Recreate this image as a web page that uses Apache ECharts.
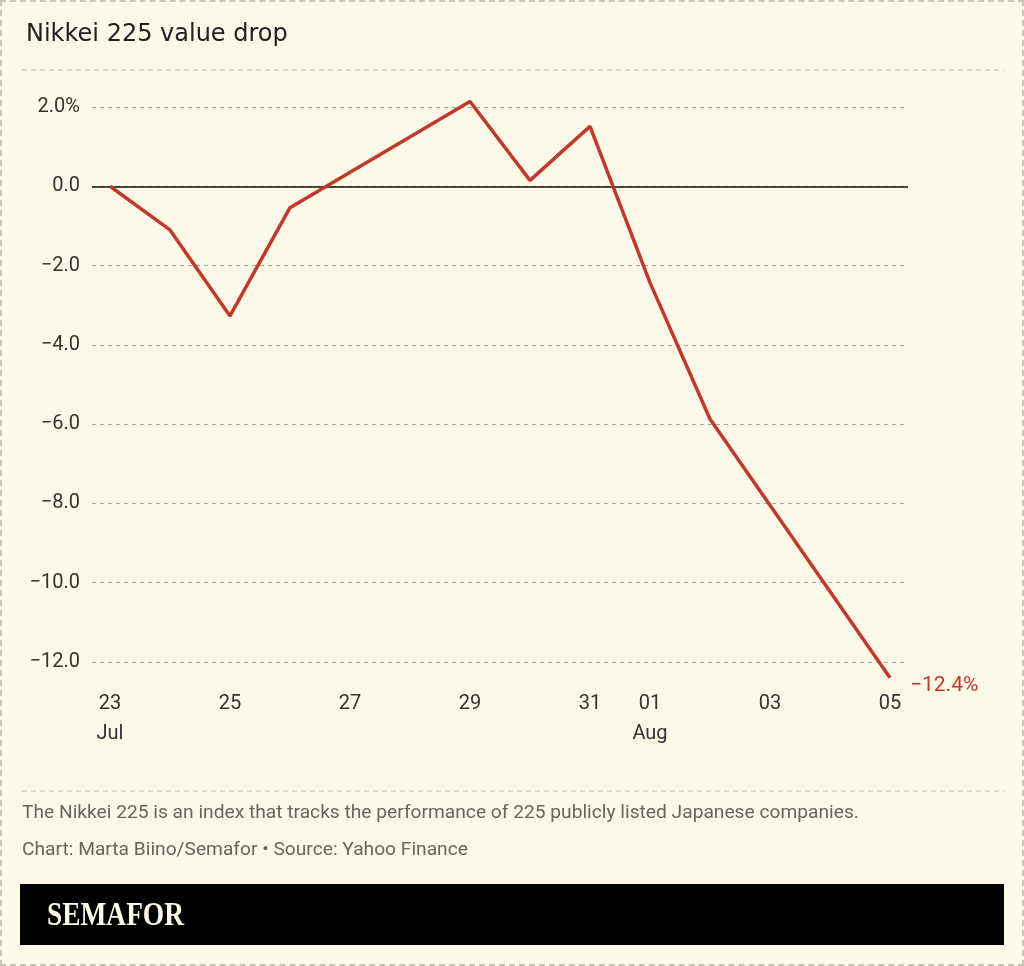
<!DOCTYPE html>
<html>
<head>
<meta charset="utf-8">
<script src="https://cdn.jsdelivr.net/npm/echarts@6/dist/echarts.min.js"></script>
<style>
  html, body { margin: 0; padding: 0; background: #fcf9e8; }
  #wrap { position: relative; width: 1024px; height: 966px; box-sizing: border-box; border: 2px dashed #c9c6b8; background: #fcf9e8; }
  #chart { position: absolute; left: -2px; top: -2px; width: 1024px; height: 966px; }
</style>
</head>
<body>
<div id="wrap"><div id="chart"></div></div>
<script>
// ---- data ----
const titleText = 'Nikkei 225 value drop';
const dates = ['2024-07-23','2024-07-24','2024-07-25','2024-07-26','2024-07-29','2024-07-30','2024-07-31','2024-08-01','2024-08-02','2024-08-05'];
const values = [0, -1.1, -3.27, -0.54, 2.14, 0.15, 1.51, -2.43, -5.87, -12.4];
const tickDates = ['2024-07-23','2024-07-25','2024-07-27','2024-07-29','2024-07-31','2024-08-01','2024-08-03','2024-08-05'];
const yTicks = [2, 0, -2, -4, -6, -8, -10, -12];
const endLabel = '\u221212.4%';
const noteText = 'The Nikkei 225 is an index that tracks the performance of 225 publicly listed Japanese companies.';
const creditText = 'Chart: Marta Biino/Semafor \u2022 Source: Yahoo Finance';

// ---- helpers ----
const DAY = 86400000;
const t0 = Date.UTC(2024, 6, 23);
function dayOffset(s) {
  const p = s.split('-').map(Number);
  return Math.round((Date.UTC(p[0], p[1] - 1, p[2]) - t0) / DAY);
}
const months = ['Jan','Feb','Mar','Apr','May','Jun','Jul','Aug','Sep','Oct','Nov','Dec'];
const tickOffsets = tickDates.map(dayOffset);
const tickLabelMap = {};
let lastMonth = null;
tickDates.forEach(function (s, i) {
  const p = s.split('-').map(Number);
  let lab = String(p[2]).padStart(2, '0');
  if (p[1] !== lastMonth) { lab += '\n' + months[p[1] - 1]; lastMonth = p[1]; }
  tickLabelMap[tickOffsets[i]] = lab;
});
const seriesData = dates.map(function (d, i) { return [dayOffset(d), values[i]]; });

const FONT = 'Roboto';
const chart = echarts.init(document.getElementById('chart'), null, { renderer: 'canvas' });
const option = {
  backgroundColor: 'transparent',
  animation: false,
  title: {
    text: titleText, left: 21, top: 18,
    textStyle: { fontFamily: 'DejaVu Sans', fontWeight: 'normal', fontSize: 24, color: '#222' }
  },
  grid: { left: 92, right: 116, top: 107, bottom: 304, containLabel: false },
  xAxis: {
    type: 'value', min: -0.3, max: 13.3,
    axisLine: { show: false }, axisTick: { show: false }, splitLine: { show: false },
    axisLabel: {
      customValues: tickOffsets,
      formatter: function (v) { return tickLabelMap[v] || ''; },
      fontFamily: FONT, fontSize: 20, color: '#333', lineHeight: 30, margin: 27
    }
  },
  yAxis: {
    type: 'value', min: -12, max: 2, interval: 2,
    axisLine: { show: false }, axisTick: { show: false },
    splitLine: { lineStyle: { color: '#a9a79c', type: [4, 4], width: 1 } },
    axisLabel: {
      margin: 12, fontFamily: FONT, fontSize: 20, color: '#333',
      formatter: function (v) {
        const s = Math.abs(v).toFixed(1);
        if (v === yTicks[0]) return s + '%';
        return (v < 0 ? '\u2212' : '') + s;
      }
    }
  },
  series: [{
    type: 'line',
    data: seriesData,
    clip: false,
    symbol: 'none',
    lineStyle: { color: '#bf3a2b', width: 3.5 },
    endLabel: {
      show: true, formatter: endLabel, distance: 20, offset: [0, 8],
      color: '#c0392b', fontSize: 21, fontFamily: FONT
    },
    markLine: {
      silent: true, symbol: 'none', animation: false,
      label: { show: false },
      lineStyle: { color: '#111', type: 'solid', width: 1.5 },
      data: [{ yAxis: 0 }]
    },
    z: 5
  }],
  graphic: [
    { type: 'line', shape: { x1: 22, y1: 70, x2: 1004, y2: 70 }, style: { stroke: '#bdbbb0', lineWidth: 1, lineDash: [5, 4] } },
    { type: 'line', shape: { x1: 22, y1: 791, x2: 1004, y2: 791 }, style: { stroke: '#bdbbb0', lineWidth: 1, lineDash: [5, 4] } },
    { type: 'text', left: 22, top: 804, style: { text: noteText, fontFamily: FONT, fontSize: 19.2, fill: '#66665f' } },
    { type: 'text', left: 22, top: 841, style: { text: creditText, fontFamily: FONT, fontSize: 19.2, fill: '#66665f' } },
    { type: 'rect', shape: { x: 20, y: 884, width: 984, height: 61 }, style: { fill: '#000' } },
    { type: 'text', x: 47, y: 916, scaleX: 0.83, style: { text: 'SEMAFOR', fontFamily: 'Liberation Serif', fontWeight: 'bold', fontSize: 33, fill: '#fcf9e8', verticalAlign: 'middle', align: 'left' } }
  ]
};
chart.setOption(option);
</script>
</body>
</html>
